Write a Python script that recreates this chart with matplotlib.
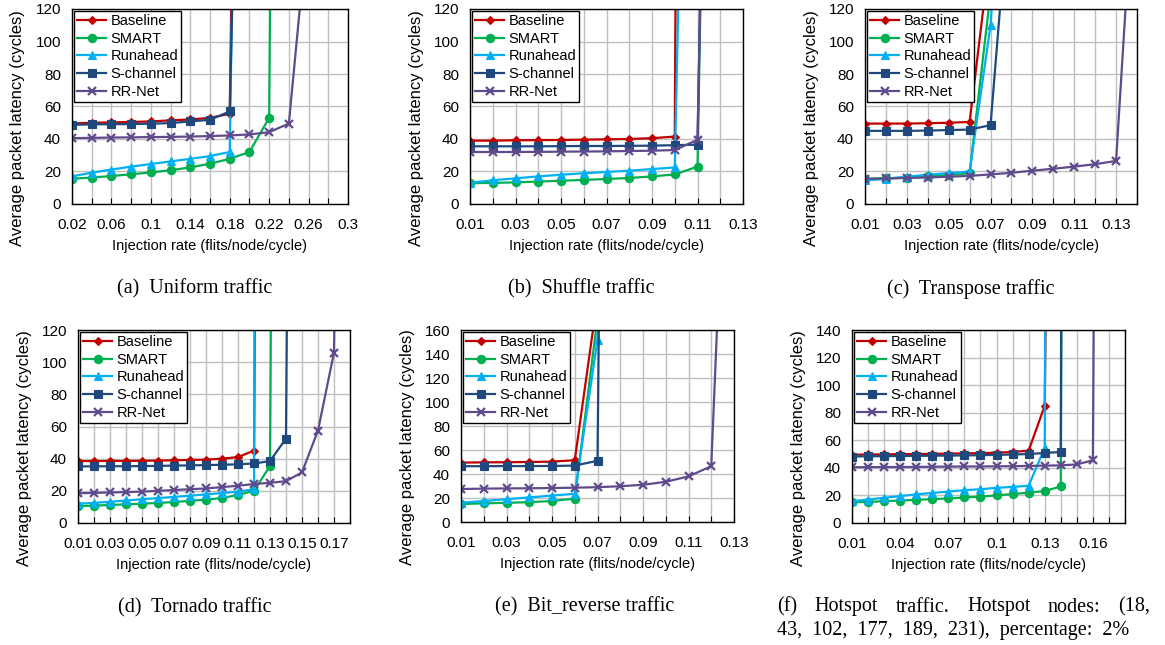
import matplotlib.pyplot as plt
import numpy as np

plt.rcParams["font.family"] = ["Liberation Sans", "DejaVu Sans"]

SERIES = ["Baseline", "SMART", "Runahead", "S-channel", "RR-Net"]
COLORS = ["#C00000", "#00B050", "#00B0F0", "#1F497D", "#5F4B8B"]
MARKERS = ["D", "o", "^", "s", "x"]
MSIZES = [4, 6, 6, 6, 6]

# (a) Uniform traffic
uni_rate = [0.02, 0.04, 0.06, 0.08, 0.10, 0.12, 0.14, 0.16, 0.18, 0.20, 0.22, 0.24, 0.26]
uni_baseline = [49.5, 50.0, 50.2, 50.5, 50.8, 51.5, 52.0, 53.0, 55.5, 900]
uni_smart = [15.5, 16.3, 17.2, 18.3, 19.4, 20.8, 22.5, 24.8, 27.8, 32.0, 53.0, 1500]
uni_runahead = [17.0, 19.3, 21.2, 23.0, 24.6, 26.2, 27.8, 29.5, 32.0, 800]
uni_schannel = [48.7, 49.0, 49.1, 49.2, 49.4, 49.8, 50.8, 51.8, 57.0, 560]
uni_rrnet = [40.5, 40.7, 40.9, 41.0, 41.2, 41.3, 41.5, 41.8, 42.2, 42.8, 44.2, 49.5, 177]

# (b) Shuffle traffic
shu_rate = [0.01, 0.02, 0.03, 0.04, 0.05, 0.06, 0.07, 0.08, 0.09, 0.10, 0.11, 0.12]
shu_baseline = [39.0, 39.0, 39.2, 39.3, 39.4, 39.6, 39.8, 40.0, 40.5, 41.5, 2500]
shu_smart = [12.8, 13.0, 13.3, 13.8, 14.3, 14.8, 15.4, 16.0, 17.0, 18.2, 23.0, 800]
shu_runahead = [13.0, 14.6, 15.8, 17.0, 18.0, 18.9, 19.7, 20.5, 21.5, 22.5, 670]
shu_schannel = [35.5, 35.5, 35.5, 35.5, 35.6, 35.7, 35.7, 35.8, 35.9, 36.2, 36.5, 800]
shu_rrnet = [32.0, 32.0, 32.0, 32.1, 32.2, 32.3, 32.4, 32.6, 32.8, 33.2, 39.5, 750]

# (c) Transpose traffic
tra_rate = [0.01, 0.02, 0.03, 0.04, 0.05, 0.06, 0.07, 0.08, 0.09, 0.10, 0.11, 0.12, 0.13, 0.14]
tra_baseline = [49.5, 49.5, 49.5, 49.7, 50.0, 50.5, 157]
tra_smart = [15.5, 15.8, 16.3, 17.0, 17.8, 19.0, 130]
tra_runahead = [14.5, 15.5, 16.8, 18.0, 19.0, 20.0, 110, 300]
tra_schannel = [45.0, 45.0, 45.0, 45.2, 45.5, 45.8, 48.5, 207]
tra_rrnet = [15.5, 15.7, 16.0, 16.3, 16.8, 17.3, 18.2, 19.2, 20.5, 21.7, 23.0, 24.5, 26.5, 234]

# (d) Tornado traffic
tor_rate = [0.01, 0.02, 0.03, 0.04, 0.05, 0.06, 0.07, 0.08, 0.09,
            0.10, 0.11, 0.12, 0.13, 0.14, 0.15, 0.16, 0.17, 0.18]
tor_baseline = [38.5, 38.5, 38.6, 38.6, 38.7, 38.8, 39.0, 39.2, 39.4, 40.0, 41.0, 45.0, 1500]
tor_smart = [10.5, 10.8, 11.2, 11.6, 12.0, 12.5, 13.0, 13.8, 14.5, 15.5, 17.5, 20.0, 35.5, 1700]
tor_runahead = [12.0, 12.5, 13.2, 14.0, 14.8, 15.5, 16.2, 17.0, 17.8, 18.6, 19.5, 21.0, 3000]
tor_schannel = [35.2, 35.2, 35.3, 35.3, 35.4, 35.5, 35.7, 35.8, 36.0, 36.2, 36.5, 37.0,
                38.5, 52.5, 1400]
tor_rrnet = [18.5, 18.7, 19.0, 19.2, 19.5, 20.0, 20.5, 21.0, 21.5, 22.3, 23.2, 24.2,
             25.0, 26.0, 31.5, 57.5, 106, 800]

# (e) Bit_reverse traffic
bit_rate = [0.01, 0.02, 0.03, 0.04, 0.05, 0.06, 0.07, 0.08, 0.09, 0.10, 0.11, 0.12, 0.13]
bit_baseline = [49.5, 49.7, 49.8, 50.0, 50.3, 51.5, 187]
bit_smart = [15.0, 15.5, 16.0, 16.5, 17.5, 19.5, 170]
bit_runahead = [16.0, 17.5, 19.0, 20.5, 22.0, 23.5, 152, 900]
bit_schannel = [46.5, 46.5, 46.6, 46.6, 46.7, 47.0, 51.0, 2000]
bit_rrnet = [27.5, 27.8, 28.0, 28.1, 28.3, 28.6, 29.0, 29.8, 31.0, 33.5, 38.0, 46.5, 500]

# (f) Hotspot traffic
hot_rate = [0.01, 0.02, 0.03, 0.04, 0.05, 0.06, 0.07, 0.08, 0.09,
            0.10, 0.11, 0.12, 0.13, 0.14, 0.15, 0.16, 0.17]
hot_baseline = [49.5, 49.7, 49.8, 50.0, 50.0, 50.2, 50.3, 50.5, 50.7, 51.0, 51.5, 52.5,
                85.0, 1200]
hot_smart = [15.0, 15.3, 15.8, 16.3, 16.8, 17.3, 17.8, 18.5, 19.2, 20.0, 21.0, 22.0,
             23.2, 26.5, 3000]
hot_runahead = [15.8, 17.0, 18.3, 19.5, 20.8, 21.8, 22.8, 23.8, 24.5, 25.5, 26.2, 27.0,
                54.5, 3000]
hot_schannel = [48.2, 48.4, 48.5, 48.6, 48.7, 48.8, 48.9, 49.0, 49.2, 49.4, 49.7, 50.0,
                50.8, 51.5, 4000]
hot_rrnet = [40.5, 40.5, 40.6, 40.6, 40.7, 40.8, 40.9, 41.0, 41.0, 41.1, 41.2, 41.4,
             41.6, 41.8, 42.5, 45.5, 2000]

PANELS = [
    dict(rate=uni_rate, data=[uni_baseline, uni_smart, uni_runahead, uni_schannel, uni_rrnet],
         xlim=(0.02, 0.30), grid_step=0.02, label_every=2, ymax=120,
         box=(72, 9, 348, 204), caption="(a)  Uniform traffic", cap_x=195),
    dict(rate=shu_rate, data=[shu_baseline, shu_smart, shu_runahead, shu_schannel, shu_rrnet],
         xlim=(0.01, 0.13), grid_step=0.01, label_every=2, ymax=120,
         box=(470, 9, 743, 204), caption="(b)  Shuffle traffic", cap_x=581),
    dict(rate=tra_rate, data=[tra_baseline, tra_smart, tra_runahead, tra_schannel, tra_rrnet],
         xlim=(0.01, 0.14), grid_step=0.01, label_every=2, ymax=120,
         box=(865, 9, 1137, 204), caption="(c)  Transpose traffic", cap_x=971),
    dict(rate=tor_rate, data=[tor_baseline, tor_smart, tor_runahead, tor_schannel, tor_rrnet],
         xlim=(0.01, 0.18), grid_step=0.01, label_every=2, ymax=120,
         box=(78, 330, 350, 523), caption="(d)  Tornado traffic", cap_x=195),
    dict(rate=bit_rate, data=[bit_baseline, bit_smart, bit_runahead, bit_schannel, bit_rrnet],
         xlim=(0.01, 0.13), grid_step=0.01, label_every=2, ymax=160,
         box=(461, 330, 734, 522), caption="(e)  Bit_reverse traffic", cap_x=585),
    dict(rate=hot_rate, data=[hot_baseline, hot_smart, hot_runahead, hot_schannel, hot_rrnet],
         xlim=(0.01, 0.18), grid_step=0.01, label_every=3, ymax=140,
         box=(852, 330, 1125, 523), caption=None, cap_x=None),
]

W, H = 1165, 645
CAP_FONT = dict(family="Liberation Serif", fontsize=14.5, va="center")

fig = plt.figure(figsize=(W / 100, H / 100), dpi=100)

for p in PANELS:
    l, t, r, b = p["box"]
    ax = fig.add_axes([l / W, 1 - b / H, (r - l) / W, (b - t) / H])
    rate = np.array(p["rate"])
    for name, vals, c, m, ms in zip(SERIES, p["data"], COLORS, MARKERS, MSIZES):
        ax.plot(rate[:len(vals)], vals, color=c, marker=m, markersize=ms,
                markeredgewidth=1.6 if m == "x" else 0.8, linewidth=1.6, label=name)

    lo, hi = p["xlim"]
    ticks = np.round(np.arange(lo, hi + 1e-9, p["grid_step"]), 3)
    ax.set_xticks(ticks)
    ax.set_xticklabels([f"{v:g}" if i % p["label_every"] == 0 else ""
                        for i, v in enumerate(ticks)])
    ax.set_xlim(lo, hi)
    ax.set_ylim(0, p["ymax"])
    ax.set_yticks(np.arange(0, p["ymax"] + 1, 20))
    ax.grid(True, color="#BFBFBF", linewidth=1.0)
    ax.set_axisbelow(True)
    ax.tick_params(axis="x", direction="in", length=4, labelsize=11, pad=10)
    ax.tick_params(axis="y", length=0, labelsize=11, pad=8)
    for s in ax.spines.values():
        s.set_color("black")
        s.set_linewidth(1.0)
    ax.set_xlabel("Injection rate (flits/node/cycle)", fontsize=10.5, labelpad=5)
    ax.set_ylabel("Average packet latency (cycles)", fontsize=12)
    ax.yaxis.set_label_coords(-0.17, 0.39)
    leg = ax.legend(loc="upper left", fontsize=10.5, frameon=True, fancybox=False,
                    framealpha=1, edgecolor="black", borderpad=0.2, labelspacing=0.25,
                    handlelength=2.0, handletextpad=0.3, borderaxespad=0.15)
    leg.get_frame().set_linewidth(1.0)

    if p["caption"]:
        fig.text(p["cap_x"] / W, 1 - (b + 85) / H, p["caption"], ha="center", **CAP_FONT)

# (f) caption, first line justified between x=777 and x=1150
words = ["(f)", "Hotspot", "traffic.", "Hotspot", "nodes:", "(18,"]
renderer = fig.canvas.get_renderer()
items = [fig.text(0, 1 - 607 / H, w, ha="left", **CAP_FONT) for w in words]
widths = [it.get_window_extent(renderer).width for it in items]
gap = (1150 - 777 - sum(widths)) / (len(words) - 1)
x = 777.0
for it, w in zip(items, widths):
    it.set_x(x / W)
    x += w + gap
fig.text(777 / W, 1 - 630 / H, "43,  102,  177,  189,  231),  percentage:  2%",
         ha="left", **CAP_FONT)

fig.savefig("out.png", dpi=100)
